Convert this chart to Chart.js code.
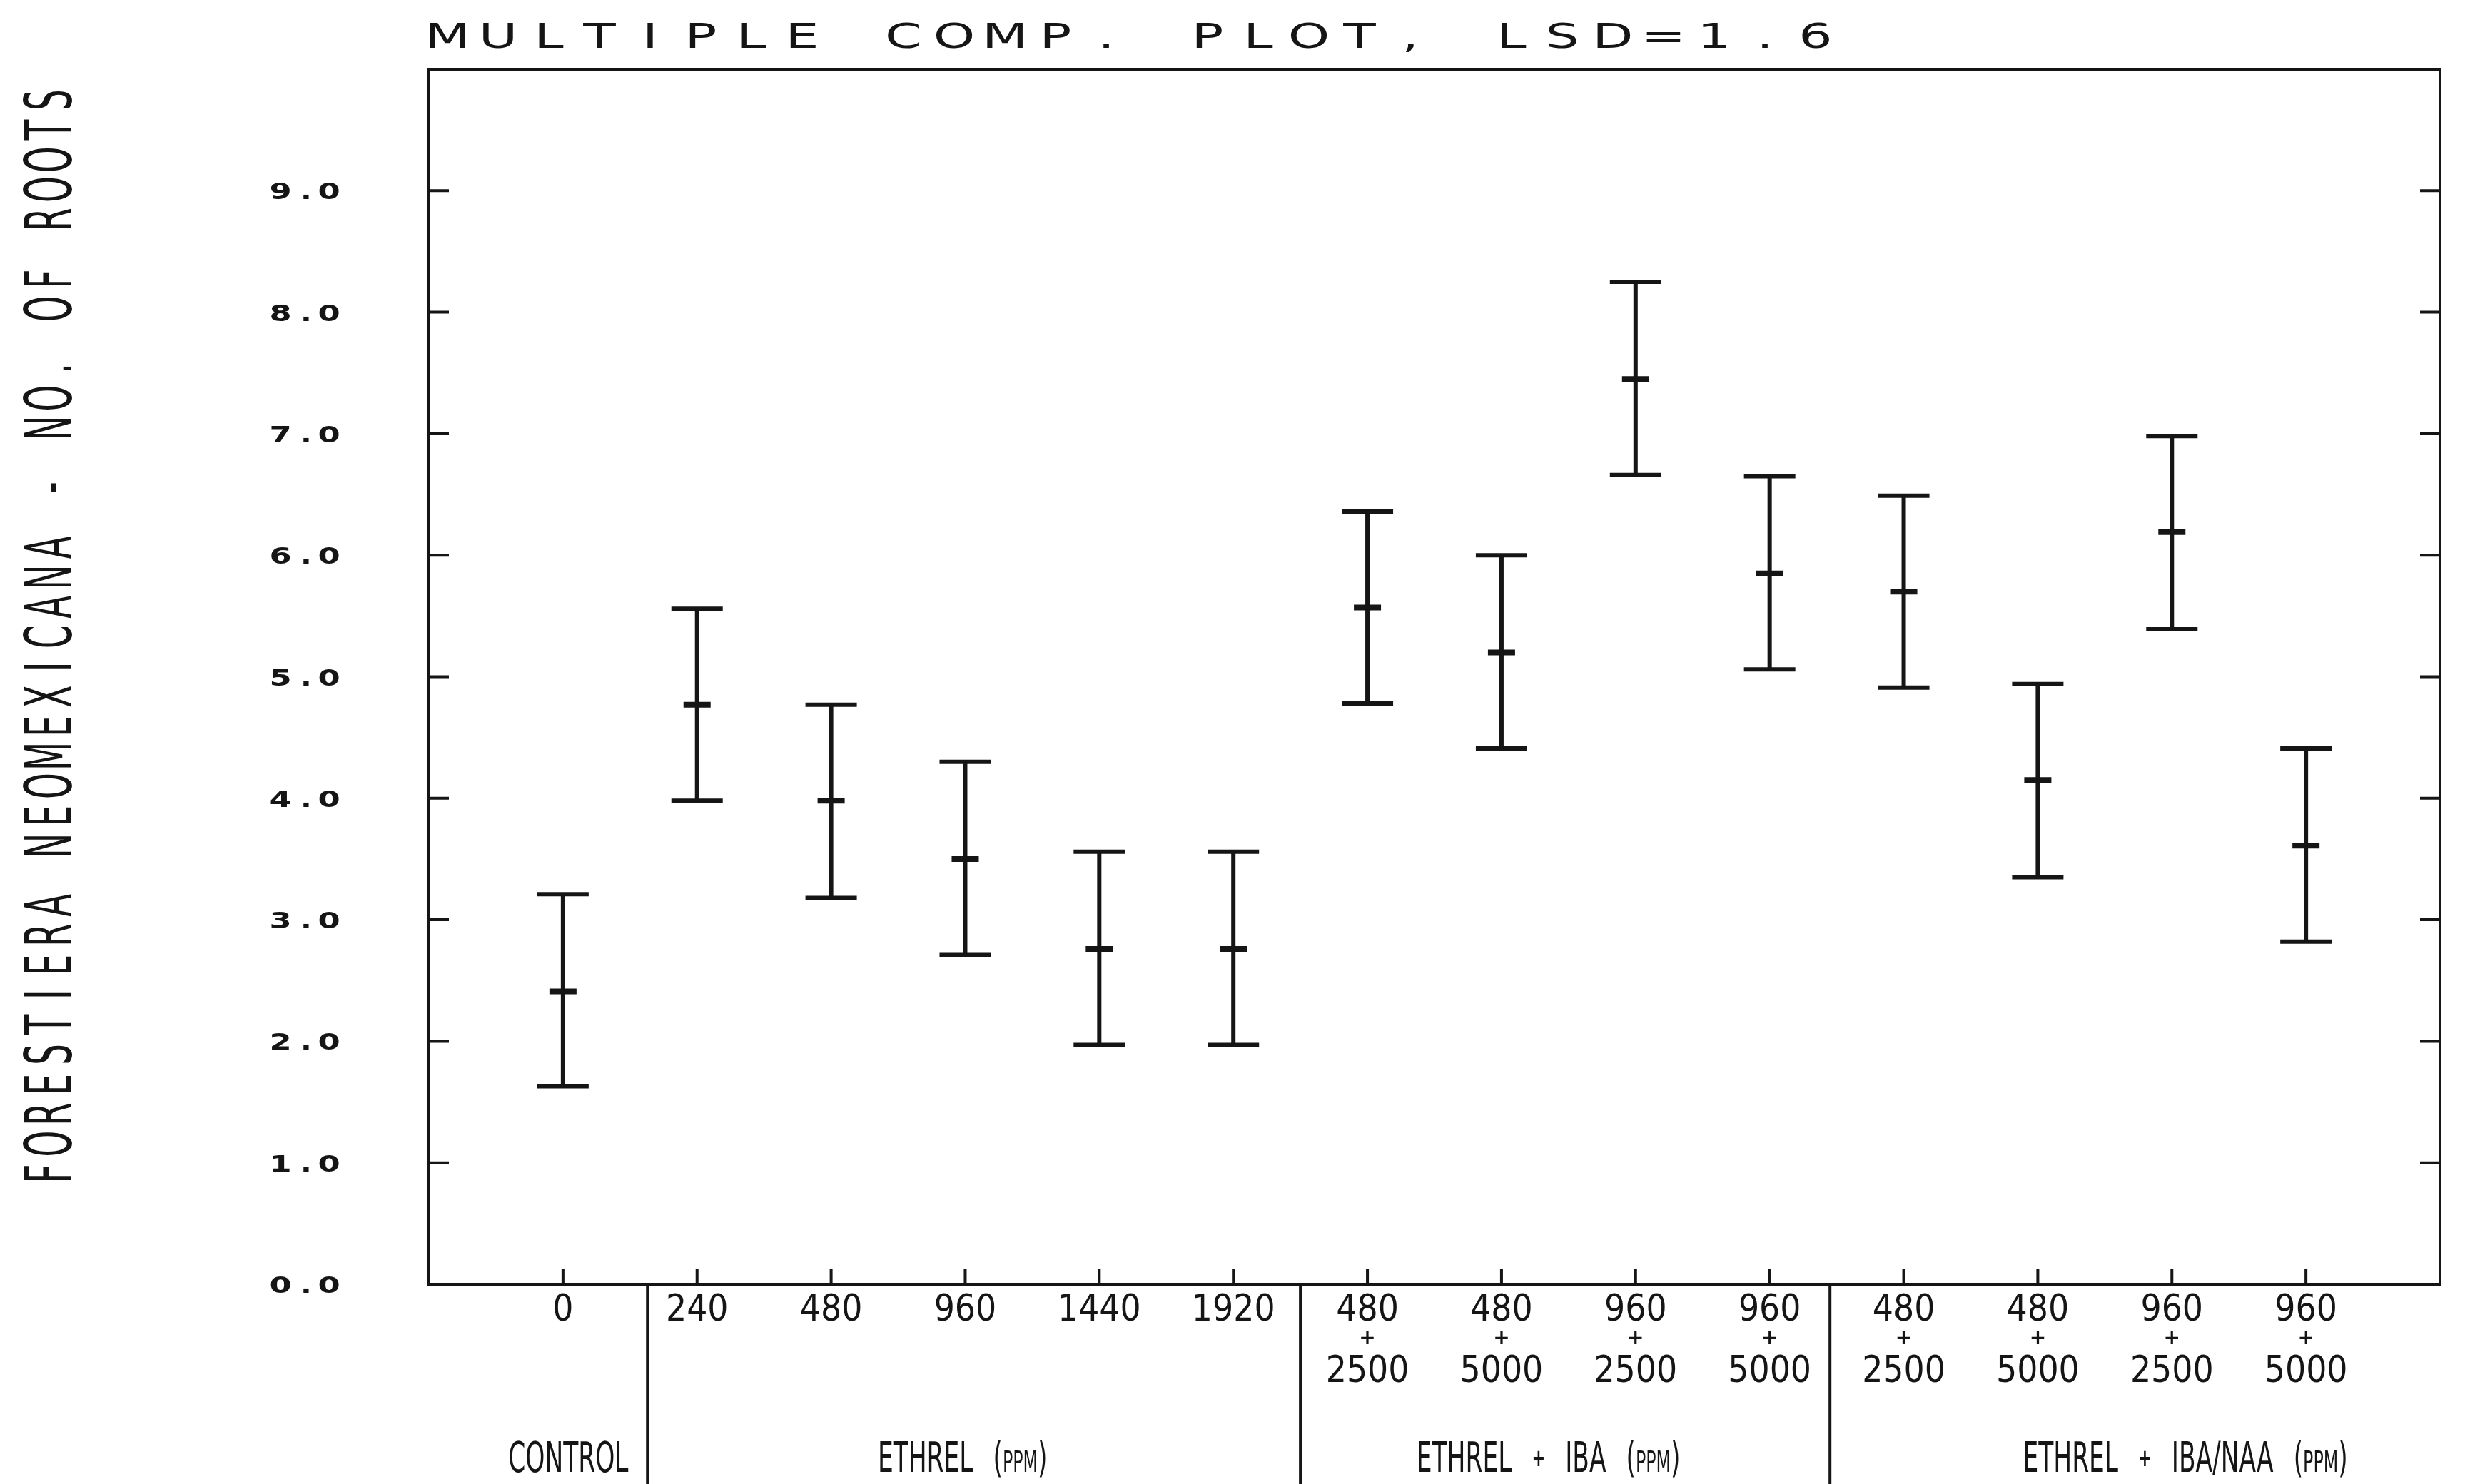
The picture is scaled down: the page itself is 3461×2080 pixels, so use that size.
<!DOCTYPE html>
<html>
<head>
<meta charset="utf-8">
<title>Multiple comp. plot, LSD=1.6</title>
<script src="https://cdn.jsdelivr.net/npm/chart.js@4.4.1/dist/chart.umd.min.js"></script>
<style>
  html, body { margin: 0; padding: 0; background: #fff; }
</style>
</head>
<body>
<canvas id="rootsChart" width="3461" height="2080"></canvas>
<script>
// one error bar per treatment, x positions 1..14
const doseLabels = [
  ["0"], ["240"], ["480"], ["960"], ["1440"], ["1920"],
  ["480", "+", "2500"], ["480", "+", "5000"], ["960", "+", "2500"], ["960", "+", "5000"],
  ["480", "+", "2500"], ["480", "+", "5000"], ["960", "+", "2500"], ["960", "+", "5000"]
];
const rootMeans = [2.41, 4.77, 3.98, 3.50, 2.76, 2.76, 5.57, 5.20, 7.45, 5.85, 5.70, 4.15, 6.19, 3.61];
const rootLows  = [1.63, 3.98, 3.18, 2.71, 1.97, 1.97, 4.78, 4.41, 6.66, 5.06, 4.91, 3.35, 5.39, 2.82];
const rootHighs = [3.21, 5.56, 4.77, 4.30, 3.56, 3.56, 6.36, 6.00, 8.25, 6.65, 6.49, 4.94, 6.98, 4.41];
const yTickValues = [0, 1, 2, 3, 4, 5, 6, 7, 8, 9];
const groupNames = ["CONTROL", "ETHREL (PPM)", "ETHREL + IBA (PPM)", "ETHREL + IBA/NAA (PPM)"];
const groupBreaks = [1.63, 6.5, 10.45];

const chartTitle = "MULTIPLE COMP. PLOT, LSD=1.6";
const yTitle = "FORESTIERA NEOMEXICANA - NO. OF ROOTS";

const INK = "#151515";
const groupCenters = [1.04, 3.98, 8.35, 13.1];
const narrowFont = "'Liberation Sans Narrow', 'DejaVu Sans Condensed', sans-serif";

// plotter text: every glyph sits in a fixed cell, squeezed or stretched sideways
function plotterChar(ctx, ch, x, y, sx) {
  ctx.save();
  ctx.translate(x, y);
  ctx.scale(sx, 1);
  ctx.textAlign = "center";
  ctx.fillText(ch, 0, 0);
  ctx.restore();
}

function drawGroupLabel(ctx, text, cx, cy) {
  const big = "58px 'DejaVu Sans Condensed', 'DejaVu Sans', sans-serif";
  const small = "40px 'DejaVu Sans Condensed', 'DejaVu Sans', sans-serif";
  const plus = "bold 34px 'DejaVu Sans', sans-serif";
  const sx = 0.66, gap = 28;
  const runs = [];
  text.split(" ").forEach((word, k) => {
    if (k) runs.push({ gap: true });
    if (word === "+") runs.push({ t: "+", font: plus, dy: -8 });
    else if (word.startsWith("(")) {
      runs.push({ t: "(", font: big, dy: 0 });
      runs.push({ t: word.slice(1, -1), font: small, dy: 0 });
      runs.push({ t: ")", font: big, dy: 0 });
    } else runs.push({ t: word, font: big, dy: 0 });
  });
  let total = 0;
  runs.forEach(r => {
    if (r.gap) { r.w = gap; } else { ctx.font = r.font; r.w = ctx.measureText(r.t).width * sx; }
    total += r.w;
  });
  let x = cx - total / 2;
  runs.forEach(r => {
    if (!r.gap) {
      ctx.font = r.font;
      ctx.save();
      ctx.translate(x, cy + 21 + r.dy);
      ctx.scale(sx, 1);
      ctx.textAlign = "left";
      ctx.fillText(r.t, 0, 0);
      ctx.restore();
    }
    x += r.w;
  });
}

const plotterFrame = {
  id: "plotterFrame",
  afterDraw(chart) {
    const { ctx, chartArea: a, scales: { x, y } } = chart;
    ctx.save();
    ctx.strokeStyle = INK;
    ctx.fillStyle = INK;
    ctx.lineCap = "butt";

    // frame
    ctx.lineWidth = 4;
    ctx.strokeRect(a.left, a.top, a.right - a.left, a.bottom - a.top);

    // inward tick marks and the group separators below the axis
    ctx.beginPath();
    yTickValues.forEach(v => {
      if (v === 0) return;
      const py = y.getPixelForValue(v);
      ctx.moveTo(a.left, py); ctx.lineTo(a.left + 28, py);
      ctx.moveTo(a.right, py); ctx.lineTo(a.right - 28, py);
    });
    doseLabels.forEach((_, i) => {
      const px = x.getPixelForValue(i + 1);
      ctx.moveTo(px, a.bottom); ctx.lineTo(px, a.bottom - 22);
    });
    groupBreaks.forEach(b => {
      const px = x.getPixelForValue(b);
      ctx.moveTo(px, a.bottom); ctx.lineTo(px, chart.height);
    });
    ctx.stroke();

    // dose labels under each tick, small plus between the two doses
    ctx.textAlign = "center";
    doseLabels.forEach((lines, i) => {
      const px = x.getPixelForValue(i + 1);
      lines.forEach((t, k) => {
        if (t === "+") {
          ctx.font = "bold 28px 'DejaVu Sans', sans-serif";
          ctx.fillText(t, px, a.bottom + 84);
        } else {
          ctx.font = "51px " + narrowFont;
          ctx.fillText(t, px, a.bottom + 51 + k * 43);
        }
      });
    });

    // y tick labels, chunky plotter digits
    ctx.font = "bold 32px 'DejaVu Sans', sans-serif";
    yTickValues.forEach(v => {
      const py = y.getPixelForValue(v) + 12;
      const s = v.toFixed(1);
      plotterChar(ctx, s[0], a.left - 208, py, 1.4);
      plotterChar(ctx, s[1], a.left - 172, py, 1.3);
      plotterChar(ctx, s[2], a.left - 140, py, 1.4);
    });

    // title
    ctx.font = "48px 'DejaVu Sans', sans-serif";
    [...chartTitle].forEach((ch, i) => plotterChar(ctx, ch, a.left + 26 + i * 71, 67, 1.55));

    // rotated y axis title, reading upwards
    ctx.save();
    ctx.translate(100, 0);
    ctx.rotate(-Math.PI / 2);
    ctx.font = "90px 'DejaVu Sans', sans-serif";
    [...yTitle].forEach((ch, i) => plotterChar(ctx, ch, -(1645 - i * 41.8), 0, 0.52));
    ctx.restore();

    // treatment group names
    groupNames.forEach((g, i) => drawGroupLabel(ctx, g, x.getPixelForValue(groupCenters[i]), 2042));

    ctx.restore();
  }
};

const stems = [];
doseLabels.forEach((_, i) => {
  stems.push({ x: i + 1, y: rootLows[i] }, { x: i + 1, y: rootHighs[i] }, { x: i + 1, y: null });
});
const caps = [
  ...rootLows.map((v, i) => ({ x: i + 1, y: v })),
  ...rootHighs.map((v, i) => ({ x: i + 1, y: v }))
];
const means = rootMeans.map((v, i) => ({ x: i + 1, y: v }));

new Chart(document.getElementById("rootsChart"), {
  type: "scatter",
  data: {
    datasets: [
      {
        label: "LSD interval",
        data: stems,
        showLine: true,
        spanGaps: false,
        borderColor: INK,
        borderWidth: 6,
        pointRadius: 0
      },
      {
        label: "limits",
        data: caps,
        pointStyle: "line",
        pointRadius: 36,
        pointBorderWidth: 6,
        pointBorderColor: INK,
        pointBackgroundColor: INK
      },
      {
        label: "mean",
        data: means,
        pointStyle: "line",
        pointRadius: 19,
        pointBorderWidth: 8,
        pointBorderColor: INK,
        pointBackgroundColor: INK
      }
    ]
  },
  options: {
    responsive: false,
    animation: false,
    devicePixelRatio: 1,
    events: [],
    layout: { padding: { top: 97, right: 29, left: 0, bottom: 0 } },
    plugins: { legend: { display: false }, tooltip: { enabled: false }, title: { display: false } },
    scales: {
      x: {
        type: "linear",
        min: 0,
        max: 15,
        afterBuildTicks: s => { s.ticks = doseLabels.map((_, i) => ({ value: i + 1 })); },
        afterFit: s => { s.height = 280; },
        grid: { display: false, drawTicks: false },
        border: { display: false },
        ticks: { display: false }
      },
      y: {
        min: 0,
        max: 10,
        afterBuildTicks: s => { s.ticks = yTickValues.map(v => ({ value: v })); },
        afterFit: s => { s.width = 601; },
        grid: { display: false, drawTicks: false },
        border: { display: false },
        ticks: { display: false }
      }
    }
  },
  plugins: [plotterFrame]
});
</script>
</body>
</html>
